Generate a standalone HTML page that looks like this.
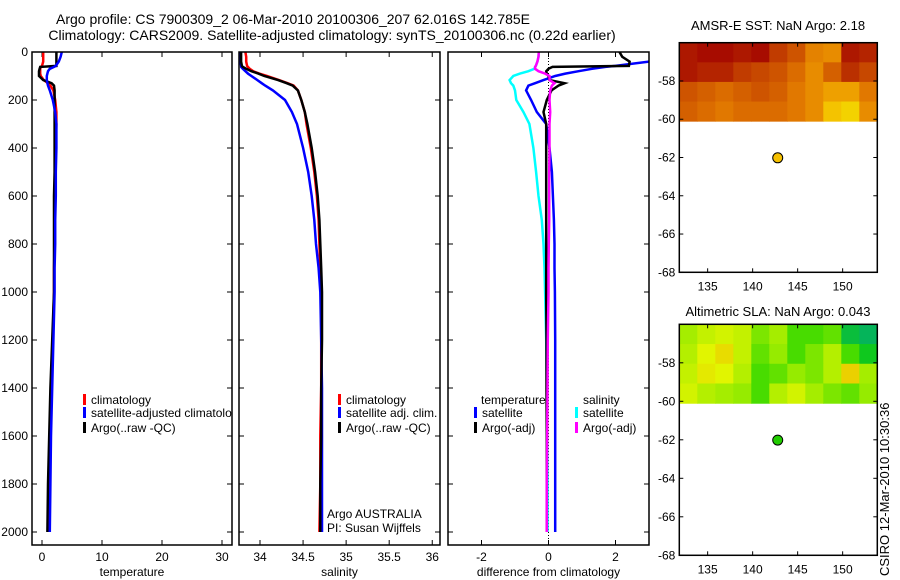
<!DOCTYPE html>
<html><head><meta charset="utf-8"><style>
body{margin:0;background:#fff;width:900px;height:580px;overflow:hidden}
svg{display:block;font-family:"Liberation Sans",sans-serif}
</style></head><body>
<svg id="chart" width="900" height="580" viewBox="0 0 900 580" xmlns="http://www.w3.org/2000/svg">
<text x="293" y="24" font-size="14" text-anchor="middle">Argo profile: CS 7900309_2 06-Mar-2010 20100306_207 62.016S 142.785E</text>
<text x="332" y="40" font-size="14" text-anchor="middle">Climatology: CARS2009. Satellite-adjusted climatology: synTS_20100306.nc (0.22d earlier)</text>
<text x="778" y="30" font-size="13" text-anchor="middle">AMSR-E SST: NaN Argo: 2.18</text>
<text x="778" y="316" font-size="13" text-anchor="middle">Altimetric SLA: NaN Argo: 0.043</text>
<text transform="translate(889,576) rotate(-90)" font-size="13">CSIRO 12-Mar-2010 10:30:36</text>
</svg>
<script>
const depth=[0,20,40,58,62,70,80,90,100,117,130,140,160,200,250,300,400,500,600,700,800,900,1000,1200,1400,1600,1800,2000];
const tClim=[0.2,0.2,0.2,0.0,-0.2,-0.3,-0.3,-0.3,-0.2,0.3,1.0,1.4,1.9,2.2,2.4,2.4,2.3,2.2,2.2,2.1,2.1,2.0,2.0,1.8,1.5,1.3,1.1,1.0];
const tArgo=[2.4,2.4,2.4,2.4,-0.3,-0.4,-0.5,-0.5,-0.5,0.2,1.6,2.0,2.1,2.1,2.1,2.1,2.1,2.1,2.0,2.0,2.0,2.0,2.0,1.7,1.4,1.2,1.0,0.9];
const tSat=[3.3,3.1,2.8,2.3,2.0,1.3,1.0,0.9,0.8,0.8,0.9,1.0,1.3,1.8,2.2,2.4,2.4,2.3,2.3,2.2,2.2,2.1,2.1,1.9,1.7,1.5,1.4,1.3];
const sClim=[33.83,33.84,33.84,33.85,33.86,33.88,33.92,33.99,34.08,34.22,34.32,34.39,34.44,34.48,34.52,34.54,34.59,34.63,34.66,34.68,34.69,34.70,34.71,34.71,34.71,34.70,34.70,34.69];
const sArgo=[33.78,33.78,33.78,33.79,33.80,33.84,33.90,33.98,34.05,34.21,34.31,34.38,34.44,34.48,34.52,34.55,34.60,34.64,34.67,34.69,34.70,34.71,34.72,34.72,34.71,34.71,34.70,34.70];
const sSat=[33.77,33.77,33.77,33.78,33.78,33.80,33.83,33.86,33.90,33.97,34.02,34.06,34.15,34.29,34.37,34.43,34.50,34.56,34.60,34.63,34.65,34.68,34.70,34.71,34.72,34.72,34.72,34.72];
const dTSat=[3.6,3.4,3.0,2.0,1.7,1.3,0.9,0.5,0.2,-0.15,-0.4,-0.6,-0.67,-0.52,-0.35,-0.07,0.03,0.1,0.13,0.16,0.18,0.18,0.19,0.2,0.2,0.2,0.2,0.2];
const dTArgo=[2.12,2.2,2.42,2.4,0.12,0.0,-0.07,-0.05,0.0,0.03,0.48,0.3,0.09,-0.05,-0.15,-0.07,-0.07,-0.07,-0.07,-0.07,-0.07,-0.07,-0.07,-0.06,-0.06,-0.05,-0.05,-0.05];
const dSSat=[-0.29,-0.3,-0.33,-0.38,-0.4,-0.42,-0.6,-0.85,-1.05,-1.16,-1.12,-1.05,-1.0,-0.96,-0.75,-0.57,-0.45,-0.37,-0.3,-0.2,-0.15,-0.12,-0.1,-0.07,-0.05,-0.04,-0.03,-0.03];
const dSArgo=[-0.29,-0.3,-0.33,-0.38,-0.4,-0.4,-0.3,-0.1,0.03,0.03,0.18,0.1,0.05,0.03,0.05,0.03,0.03,0.02,0.02,0.02,0.01,0.0,0.0,-0.02,-0.03,-0.04,-0.05,-0.05];
const depthTicks=[0,200,400,600,800,1000,1200,1400,1600,1800,2000];
const tTicks=[0,10,20,30];
const sTicks=[34,34.5,35,35.5,36];
const dTicks=[-2,0,2];
const lonTicks=[135,140,145,150];
const latTicks=[-58,-60,-62,-64,-66,-68];
const sstGrid=[[0.1,0.05,0.05,0.1,0.05,0.25,0.35,0.55,0.6,0.1,0.15],[0.1,0.15,0.15,0.25,0.3,0.35,0.45,0.6,0.4,0.2,0.3],[0.35,0.4,0.45,0.4,0.35,0.4,0.5,0.6,0.7,0.7,0.5],[0.4,0.45,0.5,0.45,0.45,0.45,0.5,0.6,0.85,0.9,0.6]];
const slaGrid=[[0.5,0.6,0.65,0.6,0.4,0.5,0.3,0.3,0.35,0.1,0.05],[0.55,0.7,0.8,0.6,0.35,0.45,0.3,0.4,0.55,0.3,0.15],[0.6,0.75,0.7,0.55,0.3,0.35,0.45,0.4,0.55,0.85,0.5],[0.65,0.55,0.5,0.45,0.3,0.55,0.65,0.5,0.4,0.35,0.45]];
const argoLon=142.785, argoLat=-62.016;

const NS='http://www.w3.org/2000/svg';
const svg=document.getElementById('chart');
function mk(tag,attrs,parent){const e=document.createElementNS(NS,tag);for(const k in attrs)e.setAttribute(k,attrs[k]);(parent||svg).appendChild(e);return e;}
const PT=52,PB=545,DMAX=(PB-PT)/0.24;
const yD=d=>PT+d*(PB-PT)/DMAX;
const panels=[
 {name:'temperature-panel',x0:32,x1:232,min:-1.667,max:31.667,ticks:tTicks,label:'temperature'},
 {name:'salinity-panel',x0:239,x1:440,min:33.756,max:36.09,ticks:sTicks,label:'salinity'},
 {name:'difference-panel',x0:448,x1:649,min:-3,max:3,ticks:dTicks,label:'difference from climatology'}];
panels.forEach((p,i)=>{
 p.sx=v=>p.x0+(v-p.min)/(p.max-p.min)*(p.x1-p.x0);
 const g=mk('g',{});
 
 
 const cp=mk('clipPath',{id:'cp'+i},g);mk('rect',{x:p.x0,y:PT,width:p.x1-p.x0,height:PB-PT},cp);
 p.g=g;
 p.ticks.forEach(t=>{const x=p.sx(t);
  mk('line',{x1:x,x2:x,y1:PB,y2:PB-5,stroke:'#000'},g);mk('line',{x1:x,x2:x,y1:PT,y2:PT+5,stroke:'#000'},g);
  const tl=mk('text',{x:x,y:PB+16,'font-size':12,'text-anchor':'middle'},g);tl.textContent=t;
  
  });
 depthTicks.forEach(d=>{const y=yD(d);
  mk('line',{x1:p.x0,x2:p.x0+5,y1:y,y2:y,stroke:'#000'},g);mk('line',{x1:p.x1,x2:p.x1-5,y1:y,y2:y,stroke:'#000'},g);
  if(i===0){const tl=mk('text',{x:28,y:y+4,'font-size':12,'text-anchor':'end'},g);tl.textContent=d;
   
   }});
 const xl=mk('text',{x:(p.x0+p.x1)/2,y:576,'font-size':12,'text-anchor':'middle'},g);xl.textContent=p.label;
 
 
 p.lines=mk('g',{'clip-path':'url(#cp'+i+')'},g);
});
function series(pi,vals,color,name,w){const p=panels[pi];
 const pts=vals.map((v,k)=>p.sx(v).toFixed(1)+','+yD(depth[k]).toFixed(1)).join(' ');
 const l=mk('polyline',{points:pts,fill:'none',stroke:color,'stroke-width':w||2.5,'stroke-linejoin':'miter'},p.lines);
 
 }
const zx=panels[2].sx(0);
mk('line',{x1:zx,x2:zx,y1:PT,y2:PB,stroke:'#000','stroke-dasharray':'1,2','stroke-width':1},panels[2].lines);
series(0,tClim,'#f00','temp-climatology-line');
series(0,tArgo,'#000','temp-argo-line');
series(0,tSat,'#00f','temp-satellite-line');
series(1,sClim,'#f00','sal-climatology-line');
series(1,sSat,'#00f','sal-satellite-line');
series(1,sArgo,'#000','sal-argo-line');
series(2,dSSat,'#0ff','diff-sal-satellite-line');
series(2,dTSat,'#00f','diff-temp-satellite-line');
series(2,dTArgo,'#000','diff-temp-argo-line');
series(2,dSArgo,'#f0f','diff-sal-argo-line');
panels.forEach(p=>mk('rect',{x:p.x0,y:PT,width:p.x1-p.x0,height:PB-PT,fill:'none',stroke:'#000','stroke-width':1.5},p.g));
function leg(pi,x,y,color,text,name){const p=panels[pi];
 const g=mk('g',{'clip-path':'url(#cp'+pi+')'},p.g);
 
 
 if(color)mk('rect',{x:x,y:y-10,width:3,height:11,fill:color},g);
 const t=mk('text',{x:color?x+8:x,y:y,'font-size':12},g);t.textContent=text;}
leg(0,83,404,'#f00','climatology','legend-climatology');
leg(0,83,417,'#00f','satellite-adjusted climatology','legend-satellite');
leg(0,83,432,'#000','Argo(..raw -QC)','legend-argo');
leg(1,338,404,'#f00','climatology','legend-climatology');
leg(1,338,417,'#00f','satellite adj. clim.','legend-satellite');
leg(1,338,432,'#000','Argo(..raw -QC)','legend-argo');
leg(2,481,404,null,'temperature','legend-temperature-header');
leg(2,474,417,'#00f','satellite','legend-temp-satellite');
leg(2,474,432,'#000','Argo(-adj)','legend-temp-argo');
leg(2,583,404,null,'salinity','legend-salinity-header');
leg(2,575,417,'#0ff','satellite','legend-sal-satellite');
leg(2,575,432,'#f0f','Argo(-adj)','legend-sal-argo');
leg(1,327,518,null,'Argo AUSTRALIA','pi-institution');
leg(1,327,532,null,'PI: Susan Wijffels','pi-name');
function lerp(a,b,t){return a.map((v,i)=>Math.round(v+(b[i]-v)*t));}
function cmap(stops,v){for(let i=1;i<stops.length;i++){if(v<=stops[i][0]){const t=(v-stops[i-1][0])/(stops[i][0]-stops[i-1][0]);const c=lerp(stops[i-1][1],stops[i][1],t);return 'rgb('+c+')';}}return 'rgb('+stops[stops.length-1][1]+')';}
const sstStops=[[0,[160,0,0]],[0.5,[225,120,0]],[0.8,[245,180,0]],[1,[240,240,0]]];
const slaStops=[[0,[0,170,120]],[0.2,[20,210,0]],[0.45,[150,235,0]],[0.7,[225,245,0]],[1,[245,170,0]]];
const LON0=131.85,LON1=153.85,LAT0=-68,LAT1=-56;
function drawMap(name,top,bottom,grid,stops,dotColor){
 const x0=679.3,x1=877.3;
 const sx=v=>x0+(v-LON0)/(LON1-LON0)*(x1-x0);
 const sy=v=>bottom-(v-LAT0)/(LAT1-LAT0)*(bottom-top);
 const g=mk('g',{});
 
 
 const nr=grid.length,nc=grid[0].length;
 grid.forEach((row,r)=>row.forEach((v,c)=>{
  const lonA=LON0+c*(LON1-LON0)/nc,lonB=LON0+(c+1)*(LON1-LON0)/nc;
  const latA=-56-r*(4.1/nr),latB=-56-(r+1)*(4.1/nr);
  const cell=mk('rect',{x:sx(lonA),y:sy(latA),width:sx(lonB)-sx(lonA)+0.5,height:sy(latB)-sy(latA)+0.5,fill:cmap(stops,v)},g);
  
  }));
 lonTicks.forEach(t=>{const x=sx(t);mk('line',{x1:x,x2:x,y1:bottom,y2:bottom-4,stroke:'#000'},g);mk('line',{x1:x,x2:x,y1:top,y2:top+4,stroke:'#000'},g);
  const tl=mk('text',{x:x,y:bottom+18,'font-size':12,'text-anchor':'middle'},g);tl.textContent=t;
  
  });
 latTicks.forEach(t=>{const y=sy(t);mk('line',{x1:x0,x2:x0+4,y1:y,y2:y,stroke:'#000'},g);mk('line',{x1:x1,x2:x1-4,y1:y,y2:y,stroke:'#000'},g);
  const tl=mk('text',{x:x0-4,y:y+4,'font-size':12,'text-anchor':'end'},g);tl.textContent=t;
  
  });
 mk('rect',{x:x0,y:top,width:x1-x0,height:bottom-top,fill:'none',stroke:'#000','stroke-width':1.5},g);
 const dot=mk('circle',{cx:sx(argoLon),cy:sy(argoLat),r:5,fill:dotColor,stroke:'#000','stroke-width':1},g);
 
 
}
drawMap('sst-map',42.7,272.3,sstGrid,sstStops,'#f5c000');
drawMap('sla-map',324.3,555.3,slaGrid,slaStops,'#22cc00');
</script>
</body></html>
